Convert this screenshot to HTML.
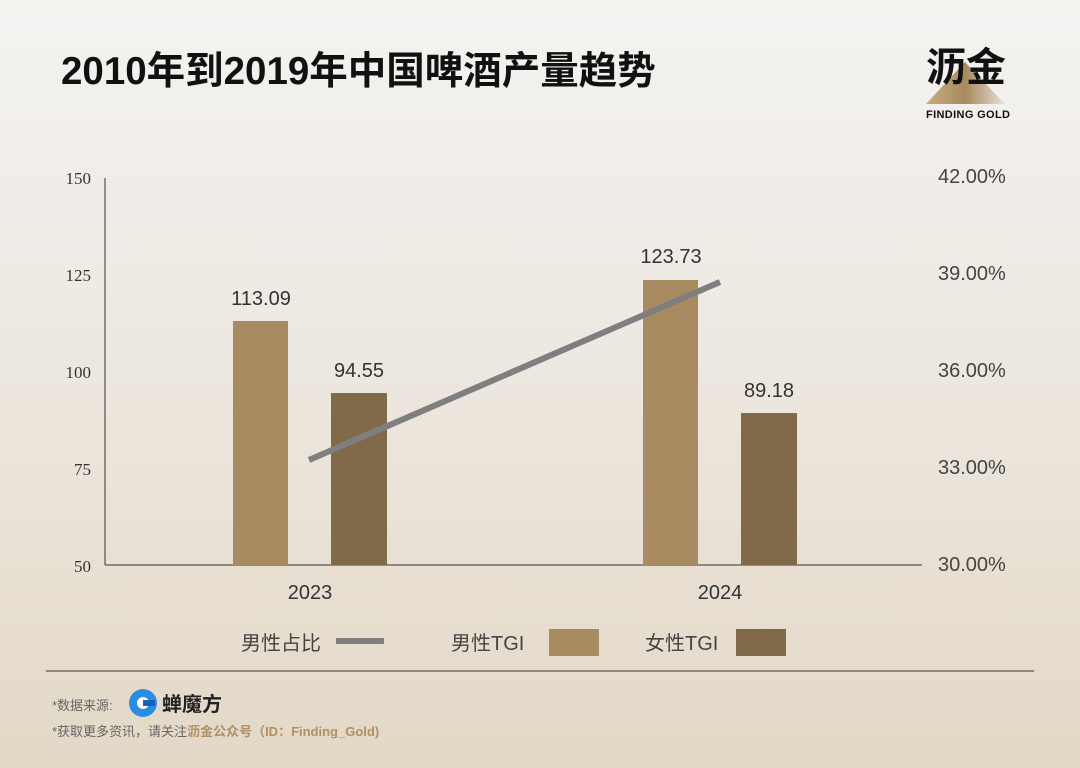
<!DOCTYPE html>
<html><head><meta charset="utf-8"><style>
body{margin:0;width:1080px;height:768px;overflow:hidden;background:linear-gradient(#f4f3f1 0%,#ede8e1 45%,#e3d8c6 100%);font-family:"Liberation Sans","Noto Sans CJK SC",sans-serif;position:relative}
.t{position:absolute;white-space:nowrap}
</style></head><body>
<div class="t" style="left:61px;top:40px;font-size:38.5px;font-weight:bold;color:#111">2010年到2019年中国啤酒产量趋势</div>
<svg width="1080" height="768" style="position:absolute;left:0;top:0">
<defs><linearGradient id="g" x1="0" y1="0" x2="1" y2="0"><stop offset="0" stop-color="#c9ad80"/><stop offset="0.5" stop-color="#a78a5e"/><stop offset="1" stop-color="#e8e2da"/></linearGradient></defs>
<polygon points="926,104 965,62 1005,104" fill="url(#g)"/>
<text x="926" y="81" font-size="40" font-weight="bold" fill="#111" font-family="Noto Sans CJK SC,sans-serif">沥金</text>
<text x="926" y="118" font-size="11" font-weight="bold" fill="#111" textLength="84">FINDING GOLD</text>
<line x1="105" y1="178" x2="105" y2="565" stroke="#333" stroke-width="1"/>
<line x1="105" y1="565" x2="922" y2="565" stroke="#333" stroke-width="1"/>
<g font-family="Liberation Serif,serif" font-size="17" fill="#333" text-anchor="end">
<text x="91" y="184">150</text><text x="91" y="281">125</text><text x="91" y="378">100</text><text x="91" y="475">75</text><text x="91" y="572">50</text></g>
<g font-size="20" fill="#444">
<text x="938" y="183">42.00%</text><text x="938" y="280">39.00%</text><text x="938" y="377">36.00%</text><text x="938" y="474">33.00%</text><text x="938" y="571">30.00%</text></g>
<rect x="233" y="321" width="55" height="244" fill="#a98b61"/>
<rect x="331" y="393" width="56" height="172" fill="#806a4a"/>
<rect x="643" y="280" width="55" height="285" fill="#a98b61"/>
<rect x="741" y="413" width="56" height="152" fill="#806a4a"/>
<line x1="309" y1="460" x2="720" y2="282" stroke="#7f7f7f" stroke-width="6"/>
<g font-size="20" fill="#333" text-anchor="middle">
<text x="261" y="305">113.09</text><text x="359" y="377">94.55</text><text x="671" y="263">123.73</text><text x="769" y="397">89.18</text>
<text x="310" y="599">2023</text><text x="720" y="599">2024</text></g>
<g font-size="20" fill="#444" font-family="Liberation Sans,Noto Sans CJK SC,sans-serif">
<text x="241" y="650">男性占比</text><text x="451" y="650">男性TGI</text><text x="645" y="650">女性TGI</text></g>
<line x1="336" y1="641" x2="384" y2="641" stroke="#7f7f7f" stroke-width="6"/>
<rect x="549" y="629" width="50" height="27" fill="#a98b61"/>
<rect x="736" y="629" width="50" height="27" fill="#806a4a"/>
<line x1="46" y1="671" x2="1034" y2="671" stroke="#333" stroke-width="1"/>
<text x="52" y="710" font-size="13" fill="#666">*数据来源:</text>
<circle cx="143" cy="703" r="14" fill="#2a8ee0"/>
<circle cx="143" cy="703" r="6" fill="#fff"/>
<rect x="143" y="700" width="12" height="6" fill="#1a5fb8"/>
<text x="162" y="711" font-size="20" font-weight="bold" fill="#222">蝉魔方</text>
<text x="52" y="736" font-size="13" fill="#666">*获取更多资讯，请关注<tspan fill="#b09064" font-weight="bold">沥金公众号（ID：Finding_Gold)</tspan></text>
</svg>
</body></html>
